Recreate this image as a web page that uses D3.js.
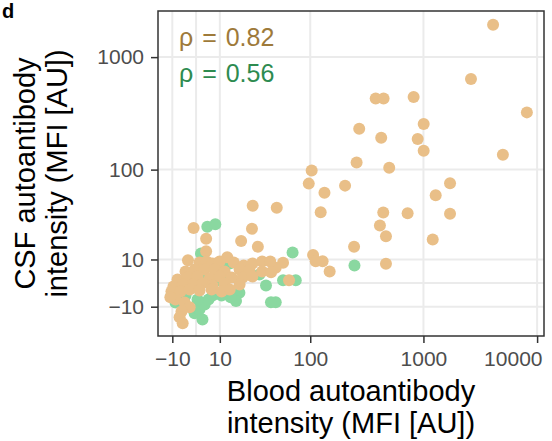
<!DOCTYPE html>
<html>
<head>
<meta charset="utf-8">
<script src="https://cdn.jsdelivr.net/npm/d3@7"></script>
<style>
  html, body { margin: 0; padding: 0; background: #ffffff; }
  svg { display: block; font-family: "Liberation Sans", Arial, sans-serif; }
  .tick text { fill: #4d4d4d; font-size: 21px; }
  .tick line { stroke: #333333; stroke-width: 1.5; }
</style>
</head>
<body>
<div id="chart"></div>
<script>
// blood (x) vs CSF (y) autoantibody intensity
const orangeX = [4100, 2620, 380, 446, 820, 8130, 272, 425, 1005, 890, 1005, 5000, 258, 500, 103, 97,
    134, 204, 1714, 1282, 49.3, 124, 443, 726, 1714, 414, 468, 1207, 245, 468, 106, 112, 129, 149,
    28.3, 27.8, 20.9, 32.1, 56.5, 48.2, 64.2, -1.0, 4.1, 4.1, -3.3, 13.5,
    1.4, 4.3, 6.8, 9.9, 16.8, 22.4, 28.1, 35.5, 42.7, -4.3, -0.6, 3.5, 7.7, 12.2, 20.0, 26.1, 35.5, 43.5,
    -7.7, -3.4, 0.6, 5.6, 9.9, 15.7, 21.8, 28.1, -9.5, -5.5, -1.4, 2.6, 6.8, 12.2, 20.0,
    -10.4, -6.4, -2.6, 1.4, 6.4, 10.8, 14.7, -8.6, -4.7, -2.6, -6.0, -6.8, -5.5, -10.9];
const orangeY = [1930, 639, 431, 431, 443, 324, 232, 193, 256, 188, 148, 136, 116, 104, 98, 74.6,
    61.3, 71.5, 75.1, 58.2, 44.2, 40.0, 39.7, 39.2, 38.7, 29.2, 22.1, 20.2, 16.2, 8.1, 12.1, 9.2, 9.2, 4.8,
    46.2, 26.9, 19.4, 16.2, 8.5, 6.4, 1.2, 27.5, 20.6, 13.9, 9.7, 11.0,
    8.6, 9.1, 8.2, 9.1, 8.6, 7.3, 8.2, 9.1, 9.1, 4.8, 5.6, 5.6, 5.6, 4.8, 5.6, 5.2, 4.8, 4.4,
    1.5, 2.3, 2.7, 1.9, 2.7, 2.3, 2.3, 2.7, -1.4, -0.6, -0.6, -0.1, -1.0, -0.1, -0.6,
    -3.4, -3.4, -2.6, -3.0, -2.6, -3.4, -2.6, -6.8, -8.1, -10.3, -12.2, -15.1, -18.3, -5.9];

const greenX = [4.6, 8.0, 2.0, 69.2, 247, 56.5, 74, 48.2, 33.3, 38.8, 19.9, 18.0, 43.4,
    -10.4, -8.6, -0.6, 1.4, 3.5, 5.1, 2.6, 6.8, 9.0, 11.7, 14.7, 15.2, 10.8, -6.8, -1.8, 3.5, 7.7, 12.2,
    -4.3, 0.6, 23.0];
const greenY = [28.4, 30.2, 12.8, 13.3, 7.3, 1.2, 1.2, -8.0, 3.5, -1.0, -4.0, -7.5, -8.0,
    -5.1, -8.1, -13.1, -11.2, -9.0, -6.8, -16.2, -5.1, 7.8, 6.5, 8.2, -5.9, -5.1, -1.8, 0.5, 2.3, 0.5, 1.5,
    -5.1, -6.8, 5.2];

const xTicks = [-10, 10, 100, 1000, 10000];
const yTicks = [-10, 10, 100, 1000];
const xGrid = [-10, 0, 10, 100, 1000, 10000];
const yGrid = [-10, 0, 10, 100, 1000];
const xDomain = [-17, 11500];
const yDomain = [-26, 2560];

const labels = [
    { text: 'ρ = 0.82', color: '#9e7a3a' },
    { text: 'ρ = 0.56', color: '#2e8b50' },
];

// pseudo-log (asinh) transform
const tr = (v) => Math.asinh(v / 20);
const fmt = (v) => (v < 0 ? '\u2212' + Math.abs(v) : String(v));

const width = 552;
const height = 441;
const panel = { left: 158, right: 544, top: 11, bottom: 336 };

const svg = d3.select('#chart')
    .append('svg')
    .attr('width', width)
    .attr('height', height);

const xt = d3.scaleLinear().domain(xDomain.map(tr)).range([panel.left, panel.right]);
const yt = d3.scaleLinear().domain(yDomain.map(tr)).range([panel.bottom, panel.top]);
const x = (v) => xt(tr(v));
const y = (v) => yt(tr(v));

// grid
const grid = svg.append('g').attr('stroke', '#ebebeb').attr('stroke-width', 2);
grid.selectAll('.gx').data(xGrid).enter().append('line')
    .attr('x1', (d) => x(d)).attr('x2', (d) => x(d))
    .attr('y1', panel.top).attr('y2', panel.bottom);
grid.selectAll('.gy').data(yGrid).enter().append('line')
    .attr('y1', (d) => y(d)).attr('y2', (d) => y(d))
    .attr('x1', panel.left).attr('x2', panel.right);

// points: green first, orange on top
const pts = svg.append('g');
pts.selectAll('.g').data(greenX).enter().append('circle')
    .attr('cx', (d) => x(d))
    .attr('cy', (d, i) => y(greenY[i]))
    .attr('r', 6)
    .attr('fill', '#8ad8a0');
pts.selectAll('.o').data(orangeX).enter().append('circle')
    .attr('cx', (d) => x(d))
    .attr('cy', (d, i) => y(orangeY[i]))
    .attr('r', 6)
    .attr('fill', '#e9bf88');

// panel border
svg.append('rect')
    .attr('x', panel.left)
    .attr('y', panel.top)
    .attr('width', panel.right - panel.left)
    .attr('height', panel.bottom - panel.top)
    .attr('fill', 'none')
    .attr('stroke', '#333333')
    .attr('stroke-width', 1.5);

// axes
const xAxis = svg.append('g')
    .attr('transform', `translate(0, ${panel.bottom})`)
    .call(d3.axisBottom(xt)
        .tickValues(xTicks.map(tr))
        .tickFormat((d, i) => fmt(xTicks[i]))
        .tickSize(7)
        .tickPadding(8));
xAxis.select('.domain').remove();
// last label sits inside the figure edge, as in the original
xAxis.selectAll('.tick text')
    .filter((d, i) => i === xTicks.length - 1)
    .attr('text-anchor', 'end')
    .attr('x', panel.right - 2 - x(10000));

const yAxis = svg.append('g')
    .attr('transform', `translate(${panel.left}, 0)`)
    .call(d3.axisLeft(yt)
        .tickValues(yTicks.map(tr))
        .tickFormat((d, i) => fmt(yTicks[i]))
        .tickSize(7)
        .tickPadding(7));
yAxis.select('.domain').remove();
svg.selectAll('.tick text').attr('font-family', null).attr('font-size', null);

// axis titles
const cx = (panel.left + panel.right) / 2;
const xTitle = svg.append('text')
    .attr('text-anchor', 'middle')
    .attr('font-size', 29)
    .attr('fill', '#000');
xTitle.append('tspan').attr('x', cx).attr('y', 401).text('Blood autoantibody');
xTitle.append('tspan').attr('x', cx).attr('y', 433).text('intensity (MFI [AU])');

const cy = (panel.top + panel.bottom) / 2;
const yTitle = svg.append('text')
    .attr('text-anchor', 'middle')
    .attr('font-size', 29)
    .attr('fill', '#000')
    .attr('transform', `translate(0, ${cy}) rotate(-90)`);
yTitle.append('tspan').attr('x', 0).attr('y', 35).text('CSF autoantibody');
yTitle.append('tspan').attr('x', 0).attr('y', 67).text('intensity (MFI [AU])');

// correlation labels
svg.selectAll('.rho').data(labels).enter().append('text')
    .attr('x', 179)
    .attr('y', (d, i) => 45.5 + i * 36.5)
    .attr('font-size', 25)
    .attr('word-spacing', 2)
    .attr('fill', (d) => d.color)
    .text((d) => d.text);

// panel tag
svg.append('text')
    .attr('x', 2)
    .attr('y', 18)
    .attr('font-size', 20)
    .attr('font-weight', 'bold')
    .text('d');
</script>
</body>
</html>
